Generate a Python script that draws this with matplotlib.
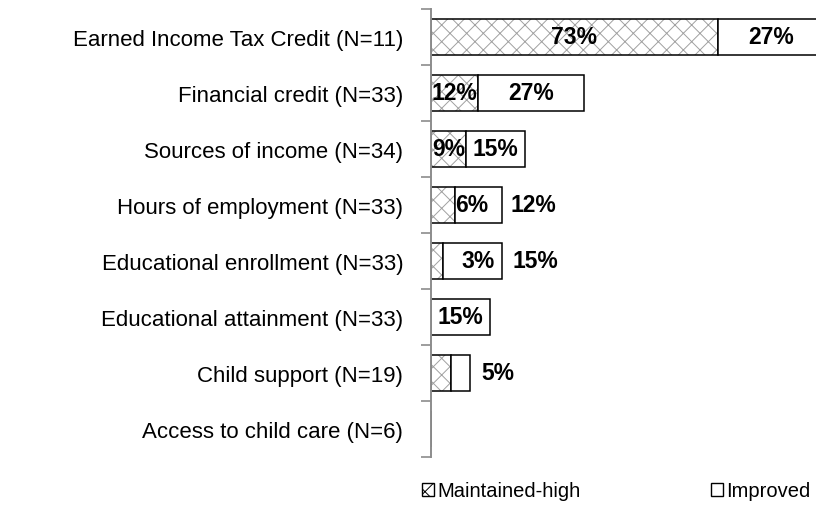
import matplotlib.pyplot as plt
import matplotlib.patches as mpatches
import numpy as np

plt.rcParams['font.family'] = ['Liberation Sans', 'DejaVu Sans']
plt.rcParams['hatch.linewidth'] = 0.7

categories = ['Earned Income Tax Credit (N=11)', 'Financial credit (N=33)',
              'Sources of income (N=34)', 'Hours of employment (N=33)',
              'Educational enrollment (N=33)', 'Educational attainment (N=33)',
              'Child support (N=19)', 'Access to child care (N=6)']
maintained_high = [73, 12, 9, 6, 3, 0, 5, 0]
improved = [27, 27, 15, 12, 15, 15, 5, 0]

# which labels Excel showed, and the ones that were dragged away from the bar
show_mh = [True, True, True, True, True, False, False, False]
show_imp = [True, True, True, True, True, True, True, False]
moved = {('mh', 3): 10.4, ('imp', 3): 26, ('mh', 4): 12, ('imp', 4): 26.5,
         ('imp', 6): 17}

fig = plt.figure(figsize=(8.16, 5.06), dpi=100)
ax = fig.add_axes([431/816, 1 - 458/506, 393/816, 448/506])

y = np.arange(len(categories))[::-1]
h = 0.66
hatch_col = '#a0a0a0'

# hatched fill first, then the black outline on top
ax.barh(y, maintained_high, h, color='white', edgecolor=hatch_col,
        hatch='xx', linewidth=0)
ax.barh(y, maintained_high, h, fill=False, edgecolor='black', linewidth=1.1)
ax.barh(y, improved, h, left=maintained_high, color='white',
        edgecolor='black', linewidth=1.1)

lab_kw = dict(ha='center', va='center', fontsize=16.5, fontweight='bold')
for i in range(len(categories)):
    if show_mh[i]:
        xx = moved.get(('mh', i), maintained_high[i] / 2)
        ax.text(xx, y[i], f'{maintained_high[i]}%', **lab_kw)
    if show_imp[i]:
        xx = moved.get(('imp', i), maintained_high[i] + improved[i] / 2)
        ax.text(xx, y[i], f'{improved[i]}%', **lab_kw)

ax.set_xlim(0, 100)
ax.set_ylim(-0.5, len(categories) - 0.5)

# ticks between categories, labels centred on bars
ax.set_yticks(np.arange(len(categories) + 1) - 0.5)
ax.set_yticklabels([])
ax.set_yticks(y, minor=True)
ax.set_yticklabels(categories, minor=True, fontsize=16)
ax.tick_params(axis='y', which='major', length=7, width=1.2, color='#8c8c8c',
               direction='out')
ax.tick_params(axis='y', which='minor', length=0, pad=20)
ax.set_xticks([])

for s in ['top', 'right', 'bottom']:
    ax.spines[s].set_visible(False)
ax.spines['left'].set_color('#8c8c8c')
ax.spines['left'].set_linewidth(1.4)

handles = [mpatches.Patch(facecolor='white', edgecolor='black', hatch='xx',
                          linewidth=1.0, label='Maintained-high'),
           mpatches.Patch(facecolor='white', edgecolor='black',
                          linewidth=1.0, label='Improved')]
fig.legend(handles=handles, loc='center left', ncol=2, frameon=False,
           bbox_to_anchor=(404/816, 1 - 492/506), fontsize=14.5,
           handlelength=0.6, handleheight=0.6, handletextpad=0.15,
           columnspacing=6.5)

fig.savefig('out.png', dpi=100)
